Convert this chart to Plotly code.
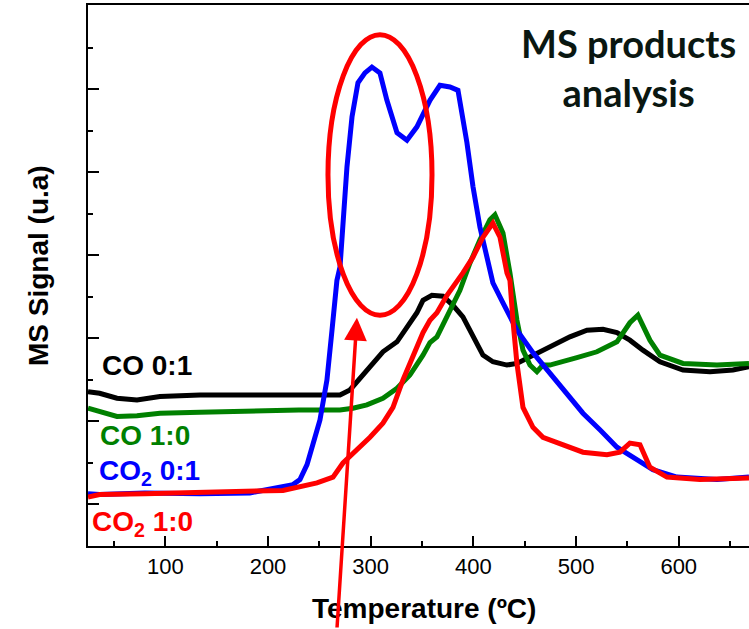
import plotly.graph_objects as go

# ---------------- data (Temperature in ºC, MS signal in arbitrary units) -------------
T_co_01 = [24.7, 36, 52.9, 72.4, 94.8, 133.8, 182.4, 230, 262, 270.1, 279.8, 296.3, 311.9,
           325.6, 335.3, 345.0, 350.9, 359.6, 370.4, 380.1, 389.8, 399.6, 409.3, 419.0,
           432.7, 442.4, 458.0, 474.5, 494.0, 510.6, 526.2, 539.8, 552.4, 565.1, 581.7,
           604.1, 630.4, 652.8, 668.4]
S_co_01 = [1.86, 1.84, 1.78, 1.76, 1.80, 1.82, 1.82, 1.82, 1.82, 1.82, 1.88, 2.12, 2.34,
           2.46, 2.64, 2.81, 2.96, 3.02, 3.01, 2.90, 2.76, 2.52, 2.30, 2.22,
           2.18, 2.20, 2.30, 2.40, 2.52, 2.60, 2.61, 2.57, 2.48, 2.36, 2.22,
           2.12, 2.10, 2.12, 2.16]

T_co_10 = [24.7, 36, 52.9, 72.4, 94.8, 133.8, 182.4, 230, 270, 282.7, 296.3, 311.9, 325.6,
           338.2, 350.9, 357.7, 364.5, 374.3, 386.9, 396.7, 406.4, 416.1, 421.0, 428.8,
           435.6, 442.4, 448.3, 455.1, 461.9, 467.7, 474.5, 500.8, 520.3, 539.8, 552.4,
           560.2, 571.9, 581.7, 604.1, 637.2, 668.4]
S_co_10 = [1.66, 1.62, 1.56, 1.57, 1.60, 1.61, 1.63, 1.64, 1.64, 1.66, 1.70, 1.78, 1.90,
           2.06, 2.30, 2.45, 2.52, 2.76, 3.08, 3.41, 3.69, 3.93, 3.99, 3.77,
           3.29, 2.72, 2.36, 2.18, 2.10, 2.18, 2.18, 2.27, 2.34, 2.46, 2.69,
           2.78, 2.48, 2.30, 2.20, 2.18, 2.20]

T_co2_01 = [24.7, 36, 80, 133.8, 182.4, 224.3, 231.1, 238.0, 250.6, 257.4, 262.3, 267.1,
            270.1, 276.9, 281.8, 287.6, 294.4, 301.2, 309.0, 315.8, 325.6, 335.3, 345.0,
            357.7, 367.4, 377.2, 385.0, 388.0, 393.7, 399.6, 406.4, 413.2, 419.0, 428.8,
            435.6, 442.4, 458.0, 474.5, 491.1, 506.7, 523.2, 539.8, 559.2, 574.8, 598.2,
            637.2, 668.4]
S_co2_01 = [0.63, 0.62, 0.64, 0.63, 0.64, 0.74, 0.80, 0.98, 1.52, 2.00, 2.60, 3.20,
            3.36, 4.57, 5.17, 5.58, 5.70, 5.77, 5.70, 5.37, 4.98, 4.89, 5.05,
            5.37, 5.55, 5.53, 5.49, 5.30, 4.86, 4.33, 3.84, 3.48, 3.17, 2.93,
            2.76, 2.60, 2.33, 2.08, 1.84, 1.60, 1.40, 1.19, 1.04, 0.92, 0.83,
            0.80, 0.83]

T_co2_10 = [24.7, 36, 80, 133.8, 182.4, 214.6, 247.7, 263.3, 273.0, 286.6, 299.3, 311.9,
            321.7, 331.4, 341.2, 350.9, 357.7, 364.5, 374.3, 385.0, 389.8, 399.6, 409.3,
            419.0, 425.9, 432.7, 435.6, 438.5, 442.4, 448.3, 458.0, 467.7, 484.3, 506.7,
            530.1, 542.7, 552.4, 562.2, 571.9, 588.5, 620.6, 668.4]
S_co2_10 = [0.59, 0.62, 0.63, 0.64, 0.66, 0.67, 0.76, 0.83, 1.00, 1.16, 1.31, 1.48,
            1.67, 2.00, 2.28, 2.57, 2.72, 2.81, 3.02, 3.20, 3.29, 3.48, 3.72,
            3.89, 3.72, 3.29, 3.20, 2.72, 2.20, 1.67, 1.43, 1.31, 1.24, 1.13,
            1.10, 1.13, 1.24, 1.22, 0.95, 0.83, 0.80, 0.82]

x_ticks = [100, 200, 300, 400, 500, 600]
x_tick_labels = ["100", "200", "300", "400", "500", "600"]

series = [
    ("CO 0:1", T_co_01, S_co_01, "#000000"),
    ("CO 1:0", T_co_10, S_co_10, "#008000"),
    ("CO<sub>2</sub> 0:1", T_co2_01, S_co2_01, "#0000ff"),
    ("CO<sub>2</sub> 1:0", T_co2_10, S_co2_10, "#ff0000"),
]

# highlighted region (ellipse) and arrow tip
ellipse_T = [258.4, 359.7]
ellipse_S = [2.78, 6.16]
arrow_tip = (286.6, 2.75)

X_RANGE = [24.7, 668.4]
Y_RANGE = [0, 6.518]

fig = go.Figure()
for name, xs, ys, col in series:
    fig.add_trace(go.Scatter(x=xs, y=ys, mode="lines", name=name,
                             line=dict(color=col, width=5), showlegend=False))

AX_FONT = "Liberation Sans, Arial, sans-serif"

fig.update_layout(
    width=749, height=629,
    margin=dict(l=88, r=0, t=5, b=83),
    plot_bgcolor="white", paper_bgcolor="white",
    xaxis=dict(range=X_RANGE, showline=True, linecolor="black", linewidth=2,
               mirror=True, showgrid=False, zeroline=False,
               tickmode="array", tickvals=x_ticks, ticktext=x_tick_labels,
               ticks="inside", ticklen=10, tickwidth=2, tickcolor="black",
               tickfont=dict(family=AX_FONT, size=22, color="black"),
               minor=dict(ticks="inside", ticklen=5, tickwidth=2, tickcolor="black",
                          tickmode="linear", tick0=50, dtick=100)),
    yaxis=dict(range=Y_RANGE, showline=True, linecolor="black", linewidth=2,
               mirror=False, showgrid=False, zeroline=False, showticklabels=False,
               tickmode="linear", tick0=0.506, dtick=1,
               ticks="inside", ticklen=11, tickwidth=2, tickcolor="black",
               minor=dict(ticks="inside", ticklen=5, tickwidth=2, tickcolor="black",
                          tickmode="linear", tick0=0.006, dtick=1)),
)

# ellipse
fig.add_shape(type="circle", xref="x", yref="y",
              x0=ellipse_T[0], x1=ellipse_T[1], y0=ellipse_S[0], y1=ellipse_S[1],
              line=dict(color="#ff0000", width=5))

def px2paper(px, py):
    return (px - 88) / 661.0, (546 - py) / 541.0

annos = []
# axis titles
xt = px2paper(424, 608)
annos.append(dict(x=xt[0], y=xt[1], xref="paper", yref="paper", text="<b>Temperature (ºC)</b>",
                  showarrow=False, xanchor="center", yanchor="middle",
                  font=dict(family=AX_FONT, size=28, color="black")))
yt = px2paper(38, 266)
annos.append(dict(x=yt[0], y=yt[1], xref="paper", yref="paper", text="<b>MS Signal (u.a)</b>",
                  showarrow=False, xanchor="center", yanchor="middle", textangle=-90,
                  font=dict(family=AX_FONT, size=28, color="black")))
# title
tt = px2paper(628, 67)
annos.append(dict(x=tt[0], y=tt[1], xref="paper", yref="paper",
                  text="<b>MS products<br>analysis</b>", showarrow=False,
                  xanchor="center", yanchor="middle", align="center",
                  font=dict(family="Lato, sans-serif", size=38, color="#0a1711")))
# series labels
label_pos = [(100, 365), (98, 435), (97, 472), (90, 523)]
for (name, xs, ys, col), (lx, ly) in zip(series, label_pos):
    p = px2paper(lx, ly)
    annos.append(dict(x=p[0], y=p[1], xref="paper", yref="paper", text="<b>%s</b>" % name,
                      showarrow=False, xanchor="left", yanchor="middle",
                      font=dict(family=AX_FONT, size=28, color=col)))
# arrow
annos.append(dict(x=arrow_tip[0], y=arrow_tip[1], xref="x", yref="y", ax=-20, ay=330,
                  axref="pixel", ayref="pixel", text="", showarrow=True,
                  arrowhead=2, arrowsize=1.3, arrowwidth=3.5, arrowcolor="#ff0000",
                  standoff=0))
fig.update_layout(annotations=annos)

fig.write_html("out.html")
